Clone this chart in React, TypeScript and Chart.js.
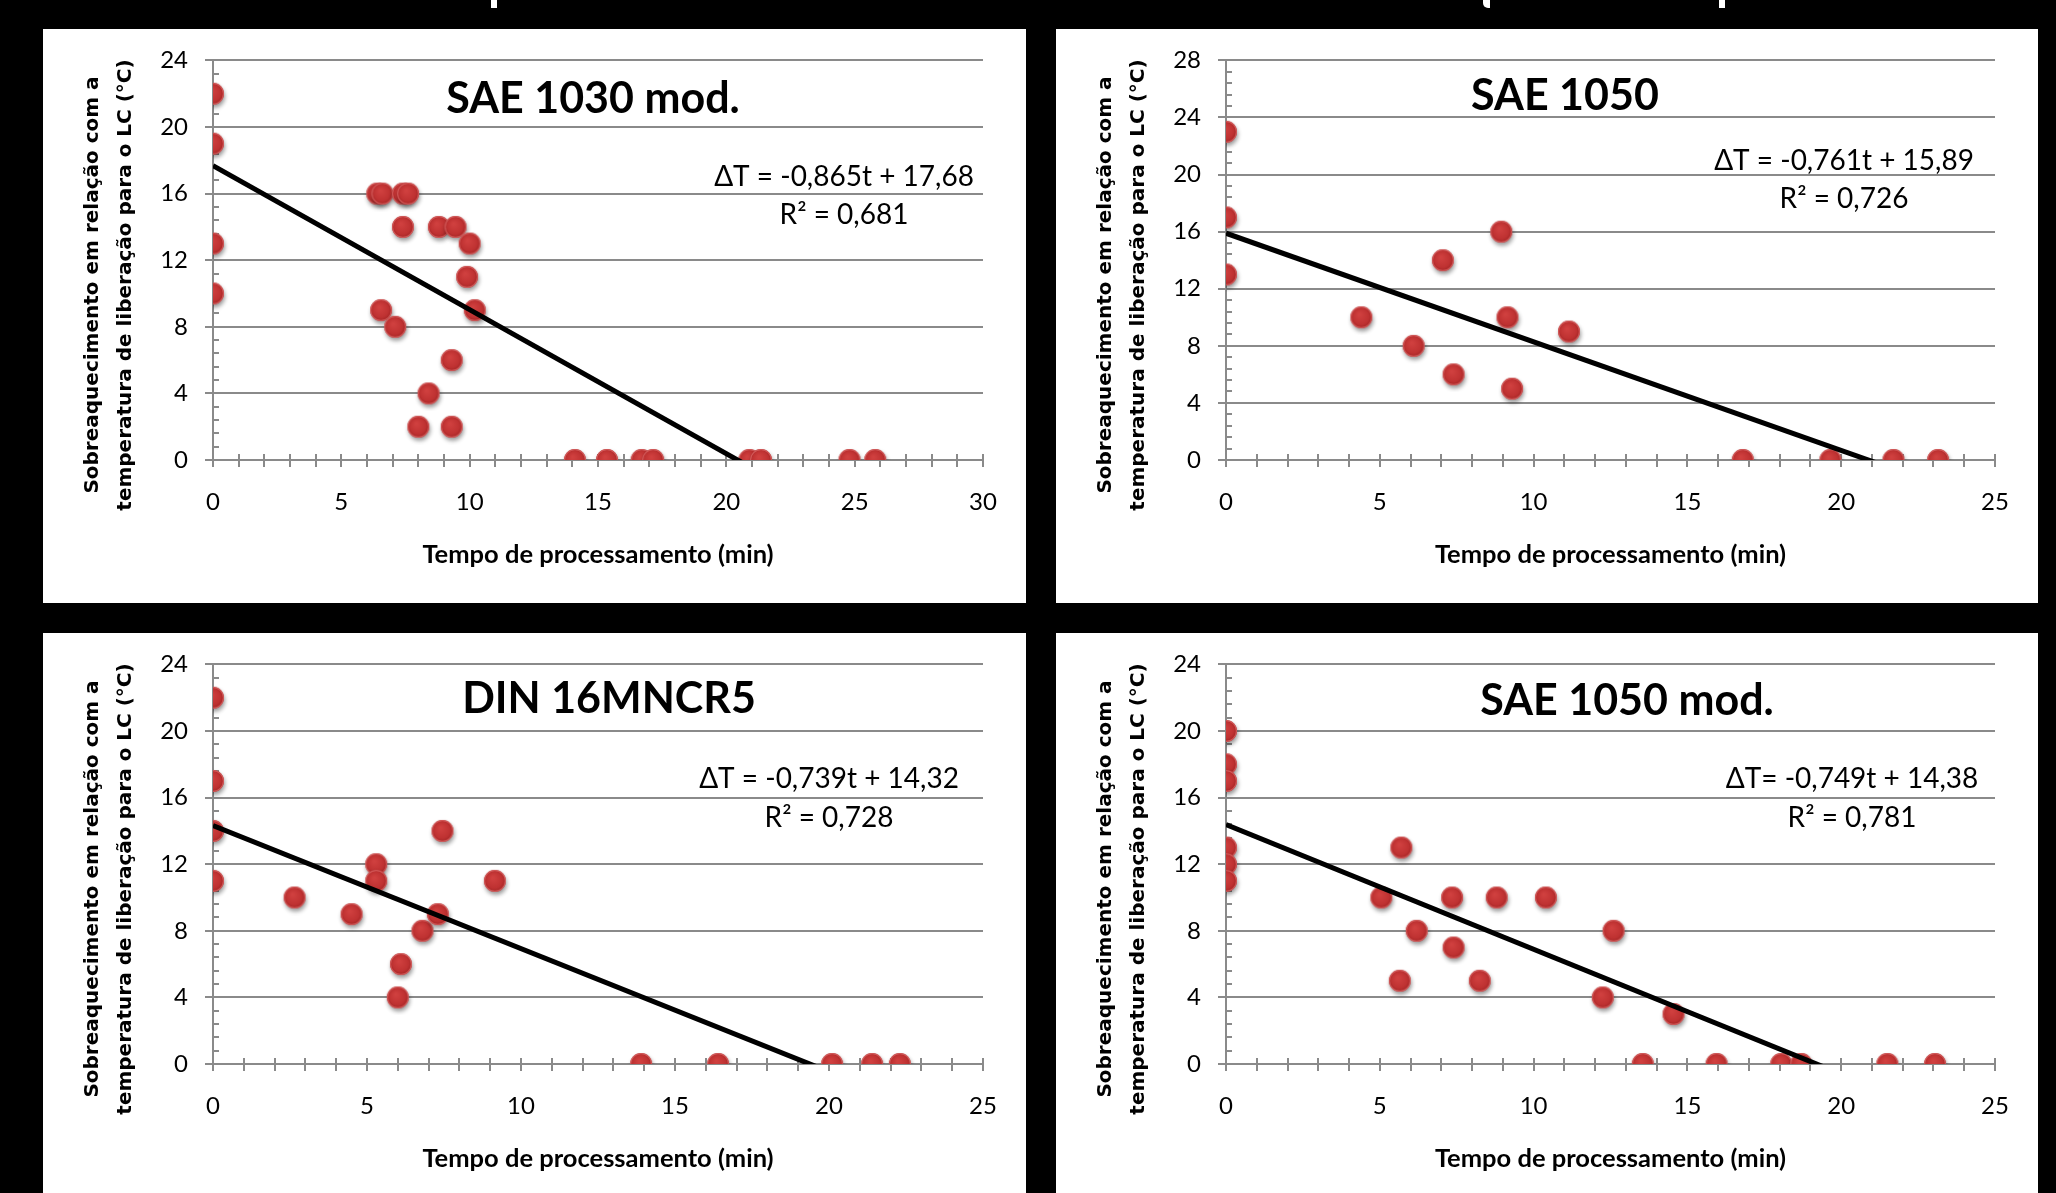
import React, { useEffect, useRef } from "react";
import { Chart, registerables } from "chart.js";

Chart.register(...registerables);

// ---------------- DATA ----------------
const panelTitles = ["SAE 1030 mod.", "SAE 1050", "DIN 16MNCR5", "SAE 1050 mod."];
const equationLabels = ["ΔT = -0,865t + 17,68", "ΔT = -0,761t + 15,89", "ΔT = -0,739t + 14,32", "ΔT= -0,749t + 14,38"];
const r2Labels = ["R² = 0,681", "R² = 0,726", "R² = 0,728", "R² = 0,781"];
const trendSlopes = [-0.865, -0.761, -0.739, -0.749];
const trendIntercepts = [17.68, 15.89, 14.32, 14.38];
const xAxisMax = [30, 25, 25, 25];
const yAxisMax = [24, 28, 24, 24];
const xAxisTitle = "Tempo de processamento (min)";
const yAxisTitleLines = ["Sobreaquecimento em relação com a", "temperatura de liberação para o LC (°C)"];

const sae1030Time = [0, 0, 0, 0, 6.4, 6.6, 7.4, 7.6, 7.4, 8.8, 9.45, 10.0, 9.9, 10.2, 6.55, 7.1, 9.3, 8.4, 8.0, 9.3, 14.1, 15.35, 16.7, 17.15, 20.9, 21.35, 24.8, 25.8];
const sae1030Superheat = [22, 19, 13, 10, 16, 16, 16, 16, 14, 14, 14, 13, 11, 9, 9, 8, 6, 4, 2, 2, 0, 0, 0, 0, 0, 0, 0, 0];

const sae1050Time = [0, 0, 0, 4.4, 6.1, 7.05, 7.4, 8.95, 9.15, 9.3, 11.15, 16.8, 19.65, 21.7, 23.15];
const sae1050Superheat = [23, 17, 13, 10, 8, 14, 6, 16, 10, 5, 9, 0, 0, 0, 0];

const din16Time = [0, 0, 0, 0, 2.65, 4.5, 5.3, 5.3, 6.1, 6.0, 6.8, 7.3, 7.45, 9.15, 13.9, 16.4, 20.1, 21.4, 22.3];
const din16Superheat = [22, 17, 14, 11, 10, 9, 12, 11, 6, 4, 8, 9, 14, 11, 0, 0, 0, 0, 0];

const sae1050ModTime = [0, 0, 0, 0, 0, 0, 5.7, 5.05, 7.35, 8.8, 10.4, 6.2, 12.6, 7.4, 5.65, 8.25, 12.25, 14.55, 13.55, 15.95, 18.05, 18.7, 21.5, 23.05];
const sae1050ModSuperheat = [20, 18, 17, 13, 12, 11, 13, 10, 10, 10, 10, 8, 8, 7, 5, 5, 4, 3, 0, 0, 0, 0, 0, 0];

const seriesTimes = [sae1030Time, sae1050Time, din16Time, sae1050ModTime];
const seriesSuperheat = [sae1030Superheat, sae1050Superheat, din16Superheat, sae1050ModSuperheat];

// ---------------- LAYOUT / STYLE ----------------
const GRID = "#8a8a8a";
const panelBoxes = [
  { left: 43, top: 29, w: 983, h: 574 },
  { left: 1056, top: 29, w: 982, h: 574 },
  { left: 43, top: 633, w: 983, h: 560 },
  { left: 1056, top: 633, w: 982, h: 560 },
];
const areaTop = [29, 29, 30, 30];
const areaBottom = 431;
const areaLeft = 170;
const areaRight = [940, 939, 940, 939];
const textPos = [
  { tx: 550, ty: 84, ex: 801, ey: 157, ry: 195 },
  { tx: 509, ty: 81, ex: 788, ey: 141, ry: 179 },
  { tx: 566, ty: 80, ex: 786, ey: 155, ry: 194 },
  { tx: 571, ty: 82, ex: 796, ey: 155, ry: 194 },
];

let markerCache: HTMLCanvasElement | null = null;
function getMarker(): HTMLCanvasElement {
  if (markerCache) return markerCache;
  const c = document.createElement("canvas");
  c.width = 36;
  c.height = 36;
  const g = c.getContext("2d")!;
  const cx = 18, cy = 18, r = 11;
  g.save();
  g.shadowColor = "rgba(0,0,0,0.4)";
  g.shadowBlur = 4;
  g.shadowOffsetX = 1;
  g.shadowOffsetY = 3;
  const grad = g.createRadialGradient(cx - 2, cy - 3, 1, cx, cy, r);
  grad.addColorStop(0, "#d0403f");
  grad.addColorStop(0.7, "#bf3232");
  grad.addColorStop(1, "#a22424");
  g.fillStyle = grad;
  g.beginPath();
  g.arc(cx, cy, r, 0, Math.PI * 2);
  g.fill();
  g.restore();
  g.strokeStyle = "rgba(220,100,100,0.8)";
  g.lineWidth = 1.2;
  g.beginPath();
  g.arc(cx, cy, r - 0.6, 0, Math.PI * 2);
  g.stroke();
  markerCache = c;
  return c;
}

const decorPlugin = {
  id: "decor",
  beforeDatasetsDraw(chart: any, _args: any, opts: any) {
    const ctx = chart.ctx;
    const xs = chart.scales.x;
    const ys = chart.scales.y;
    ctx.save();
    ctx.strokeStyle = GRID;
    ctx.lineWidth = 2;
    const y0 = ys.getPixelForValue(0);
    for (let i = 0; i <= opts.xMax; i++) {
      const px = Math.round(xs.getPixelForValue(i));
      ctx.beginPath();
      ctx.moveTo(px, y0 - 6);
      ctx.lineTo(px, y0 + 7);
      ctx.stroke();
    }
    const x0 = xs.getPixelForValue(0);
    const nMinor = Math.round(opts.yMax / 0.8);
    for (let i = 1; i < nMinor; i++) {
      if (i % 5 === 0) continue;
      const py = Math.round(ys.getPixelForValue(i * 0.8));
      ctx.beginPath();
      ctx.moveTo(x0, py);
      ctx.lineTo(x0 + 6, py);
      ctx.stroke();
    }
    ctx.restore();
  },
  afterDraw(chart: any, _args: any, opts: any) {
    const ctx = chart.ctx;
    const area = chart.chartArea;
    ctx.save();
    ctx.fillStyle = "#000";
    ctx.textAlign = "center";
    ctx.textBaseline = "alphabetic";
    ctx.font = "bold 43px Lato, 'Open Sans', sans-serif";
    ctx.fillText(opts.title, opts.tx, opts.ty);
    ctx.font = "28px Lato, 'Open Sans', sans-serif";
    ctx.fillText(opts.eq, opts.ex, opts.ey);
    ctx.fillText(opts.r2, opts.ex, opts.ry);
    ctx.font = "bold 25.5px Lato, 'Open Sans', sans-serif";
    ctx.textBaseline = "middle";
    ctx.fillText(xAxisTitle, (area.left + area.right) / 2, 526);
    ctx.font = "bold 20px 'DejaVu Sans', Verdana, sans-serif";
    ctx.translate(0, 256);
    ctx.rotate(-Math.PI / 2);
    ctx.fillText(yAxisTitleLines[0], 0, 50);
    ctx.fillText(yAxisTitleLines[1], 0, 83);
    ctx.restore();
  },
};

function Panel({ idx }: { idx: number }) {
  const ref = useRef<HTMLCanvasElement>(null);
  const box = panelBoxes[idx];
  useEffect(() => {
    const times = seriesTimes[idx];
    const heats = seriesSuperheat[idx];
    const pts = times.map((t, i) => ({ x: t, y: heats[i] }));
    const xEnd = Math.max(...times);
    const trend = [
      { x: 0, y: trendIntercepts[idx] },
      { x: xEnd, y: trendIntercepts[idx] + trendSlopes[idx] * xEnd },
    ];
    const tickFont = { family: "Lato, 'Open Sans', sans-serif", size: 24 };
    const tp = textPos[idx];
    const xBoxH = box.h - areaBottom;
    const chart = new Chart(ref.current!, {
      type: "scatter",
      data: {
        datasets: [
          {
            type: "line",
            data: trend,
            borderColor: "#000",
            borderWidth: 5,
            pointRadius: 0,
            fill: false,
            order: 0,
          } as any,
          {
            type: "scatter",
            data: pts,
            pointStyle: getMarker() as any,
            pointRadius: 11,
            order: 1,
          } as any,
        ],
      },
      options: {
        animation: false,
        responsive: false,
        events: [],
        layout: {
          padding: { left: 0, right: box.w - areaRight[idx], top: areaTop[idx], bottom: 0 },
        },
        plugins: {
          legend: { display: false },
          tooltip: { enabled: false },
          decor: {
            xMax: xAxisMax[idx],
            yMax: yAxisMax[idx],
            title: panelTitles[idx],
            eq: equationLabels[idx],
            r2: r2Labels[idx],
            ...tp,
          },
        } as any,
        scales: {
          x: {
            type: "linear",
            min: 0,
            max: xAxisMax[idx],
            afterFit: (s: any) => {
              s.height = xBoxH;
            },
            grid: { display: false, drawTicks: false },
            border: { display: false },
            ticks: { stepSize: 5, padding: 28, font: tickFont, color: "#000", maxRotation: 0, autoSkip: false },
          },
          y: {
            type: "linear",
            min: 0,
            max: yAxisMax[idx],
            afterFit: (s: any) => {
              s.width = areaLeft;
            },
            grid: { color: GRID, lineWidth: 2, tickLength: 8, tickColor: GRID },
            border: { color: GRID, width: 2 },
            ticks: { stepSize: 4, padding: 17, font: tickFont, color: "#000", autoSkip: false },
          },
        },
      },
      plugins: [decorPlugin as any],
    });
    return () => chart.destroy();
  }, [idx]);
  return (
    <div style={{ position: "absolute", left: box.left, top: box.top, width: box.w, height: box.h, background: "#fff" }}>
      <canvas ref={ref} width={box.w} height={box.h} style={{ display: "block", width: box.w, height: box.h }} />
    </div>
  );
}

export default function App() {
  useEffect(() => {
    document.body.style.margin = "0";
    document.body.style.background = "#000";
  }, []);
  return (
    <div style={{ position: "fixed", left: 0, top: 0, width: 2056, height: 1193, background: "#000", overflow: "hidden" }}>
      <div style={{ position: "absolute", left: 491, top: 0, width: 6, height: 8, background: "#fff" }} />
      <div style={{ position: "absolute", left: 1483, top: 0, width: 7, height: 8, background: "#fff", borderBottomLeftRadius: 5 }} />
      <div style={{ position: "absolute", left: 1719, top: 0, width: 6, height: 8, background: "#fff" }} />
      {[0, 1, 2, 3].map((i) => (
        <Panel key={i} idx={i} />
      ))}
    </div>
  );
}
